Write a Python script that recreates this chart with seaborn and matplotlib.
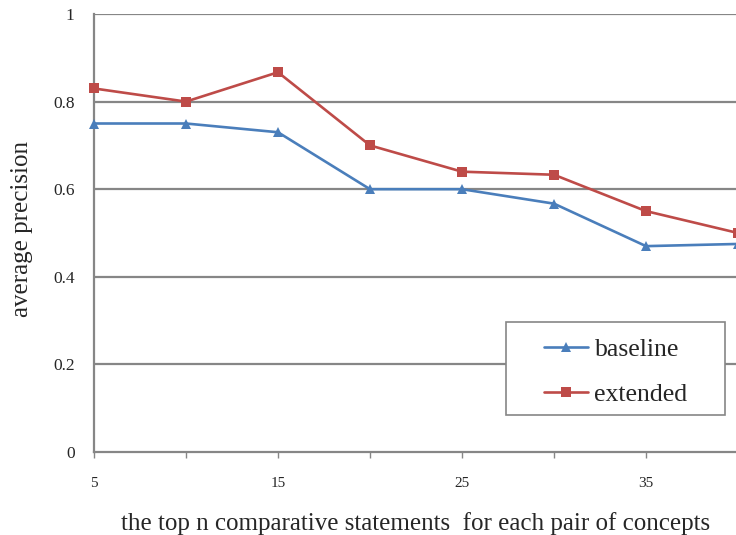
import matplotlib
matplotlib.use("Agg")
import matplotlib.pyplot as plt
from matplotlib.patches import Rectangle
import seaborn as sns
import pandas as pd

n_values = [5, 10, 15, 20, 25, 30, 35, 40]
baseline = [0.75, 0.75, 0.73, 0.60, 0.60, 0.567, 0.47, 0.475]
extended = [0.83, 0.80, 0.867, 0.70, 0.64, 0.633, 0.55, 0.50]
series_names = ["baseline", "extended"]
x_tick_values = [5, 10, 15, 20, 25, 30, 35, 40]
x_tick_labels = ["5", "", "15", "", "25", "", "35", ""]
y_tick_values = [0, 0.2, 0.4, 0.6, 0.8, 1.0]
y_tick_labels = ["0", "0.2", "0.4", "0.6", "0.8", "1"]

df = pd.DataFrame({
    "n": n_values * 2,
    "precision": baseline + extended,
    "series": [series_names[0]] * len(n_values) + [series_names[1]] * len(n_values),
})

sns.set_style("white")
plt.rcParams["font.family"] = ["Liberation Serif", "DejaVu Serif"]

W, H = 736, 535
fig = plt.figure(figsize=(W / 100, H / 100), dpi=100)
ax = fig.add_axes([94 / W, 1 - 452 / H, 644 / W, 438 / H])

grid_c = "#868686"
for yv in y_tick_values[1:]:
    ax.axhline(yv, color=grid_c, lw=1.6, zorder=0)

sns.lineplot(
    data=df, x="n", y="precision", hue="series", style="series",
    markers={"baseline": "^", "extended": "s"}, dashes=False,
    palette={"baseline": "#4a7ebb", "extended": "#be4b48"},
    lw=1.9, markersize=6.5, markeredgewidth=0, ax=ax, clip_on=False, zorder=3,
)

ax.set_xlim(5, 40)
ax.set_ylim(0, 1)
ax.set_xticks(x_tick_values)
ax.set_xticklabels(x_tick_labels, fontsize=11)
ax.set_yticks(y_tick_values)
ax.set_yticklabels(y_tick_labels, fontsize=12.5)
ax.tick_params(axis="x", direction="out", length=4, width=1, color=grid_c, pad=14, bottom=True)
ax.tick_params(axis="y", length=0, pad=14, left=False)

for side in ["top", "right"]:
    ax.spines[side].set_visible(False)
for side in ["left", "bottom"]:
    ax.spines[side].set_color(grid_c)
    ax.spines[side].set_linewidth(1.6)

ax.set_xlabel("the top n comparative statements  for each pair of concepts", fontsize=18, labelpad=16)
ax.set_ylabel("average precision", fontsize=18)
ax.yaxis.set_label_coords(-0.094, 0.51)

# legend box
box = Rectangle((506 / W, 1 - 415 / H), 219 / W, 93 / H, transform=fig.transFigure,
                facecolor="white", edgecolor=grid_c, lw=1.2, zorder=4)
ax.add_patch(box)

handles, labels = ax.get_legend_handles_labels()
leg = ax.legend(handles, labels, loc="center",
                bbox_to_anchor=(616 / W, 1 - 372 / H), bbox_transform=fig.transFigure,
                frameon=False, fontsize=18.5, handlelength=1.7,
                labelspacing=0.86, borderpad=0, handletextpad=0.25, borderaxespad=0)
leg.set_zorder(5)

fig.savefig("out.png", dpi=100)
